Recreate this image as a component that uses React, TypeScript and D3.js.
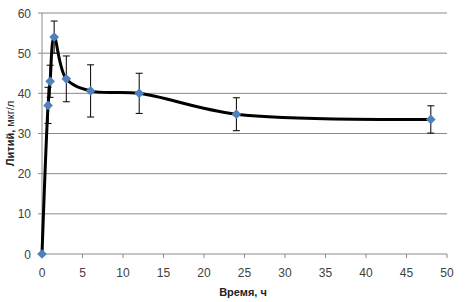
import React from "react";
import * as d3 from "d3";

const times = [0, 0.75, 1, 1.5, 3, 6, 12, 24, 48];
const lithium = [0, 37, 43, 54, 43.6, 40.6, 40, 34.8, 33.5];
const errors = [0, 4.5, 4, 4, 5.7, 6.5, 5, 4.1, 3.4];
const xTicks = [0, 5, 10, 15, 20, 25, 30, 35, 40, 45, 50];
const yTicks = [0, 10, 20, 30, 40, 50, 60];

const W = 475, H = 302;
const x = d3.scaleLinear().domain([0, 50]).range([42, 447]);
const y = d3.scaleLinear().domain([0, 60]).range([254, 13]);

export default function App() {
  const line = d3.line<number>()
    .x((_, i) => x(times[i]))
    .y((d) => y(d))
    .curve(d3.curveCatmullRom.alpha(0.5));
  const font = "'Liberation Sans', Arial, sans-serif";
  const diamond = d3.symbol().type(d3.symbolDiamond2).size(60)() as string;
  return (
    <svg width={W} height={H} style={{ position: "absolute", left: 0, top: 0, background: "#fff" }} fontFamily={font}>
      <rect width={W} height={H} fill="#fff" />
      {yTicks.map((t) => (
        <g key={t}>
          {t > 0 && <line x1={x(0)} x2={x(50)} y1={y(t)} y2={y(t)} stroke="#8a8a8a" strokeWidth={1} />}
          <line x1={x(0) - 4} x2={x(0)} y1={y(t)} y2={y(t)} stroke="#8a8a8a" />
          <text x={31} y={y(t) + 4.5} textAnchor="end" fontSize={12} fill="#404040">{t}</text>
        </g>
      ))}
      <line x1={x(0)} x2={x(0)} y1={y(60)} y2={y(0)} stroke="#8a8a8a" />
      <line x1={x(0)} x2={x(50)} y1={y(0)} y2={y(0)} stroke="#8a8a8a" />
      {xTicks.map((t) => (
        <g key={t}>
          <line x1={x(t)} x2={x(t)} y1={y(0)} y2={y(0) + 4} stroke="#8a8a8a" />
          <text x={x(t)} y={277} textAnchor="middle" fontSize={12} fill="#404040">{t}</text>
        </g>
      ))}
      <text x={243} y={296} textAnchor="middle" fontSize={11} fontWeight="bold" fill="#222">Время, ч</text>
      <text transform={`translate(14,${y(30)}) rotate(-90)`} textAnchor="middle" fontSize={11} fill="#222">
        <tspan fontWeight="bold">Литий, </tspan>
        <tspan>мкг/л</tspan>
      </text>
      <path d={line(lithium) || ""} fill="none" stroke="#000" strokeWidth={3} strokeLinejoin="round" />
      {lithium.map((v, i) => errors[i] > 0 && (
        <g key={"e" + i} stroke="#000" strokeWidth={1}>
          <line x1={x(times[i])} x2={x(times[i])} y1={y(v + errors[i])} y2={y(v - errors[i])} />
          <line x1={x(times[i]) - 3.5} x2={x(times[i]) + 3.5} y1={y(v + errors[i])} y2={y(v + errors[i])} />
          <line x1={x(times[i]) - 3.5} x2={x(times[i]) + 3.5} y1={y(v - errors[i])} y2={y(v - errors[i])} />
        </g>
      ))}
      {lithium.map((v, i) => (
        <path key={"m" + i} d={diamond} transform={`translate(${x(times[i])},${y(v)})`} fill="#4f81bd" />
      ))}
    </svg>
  );
}
